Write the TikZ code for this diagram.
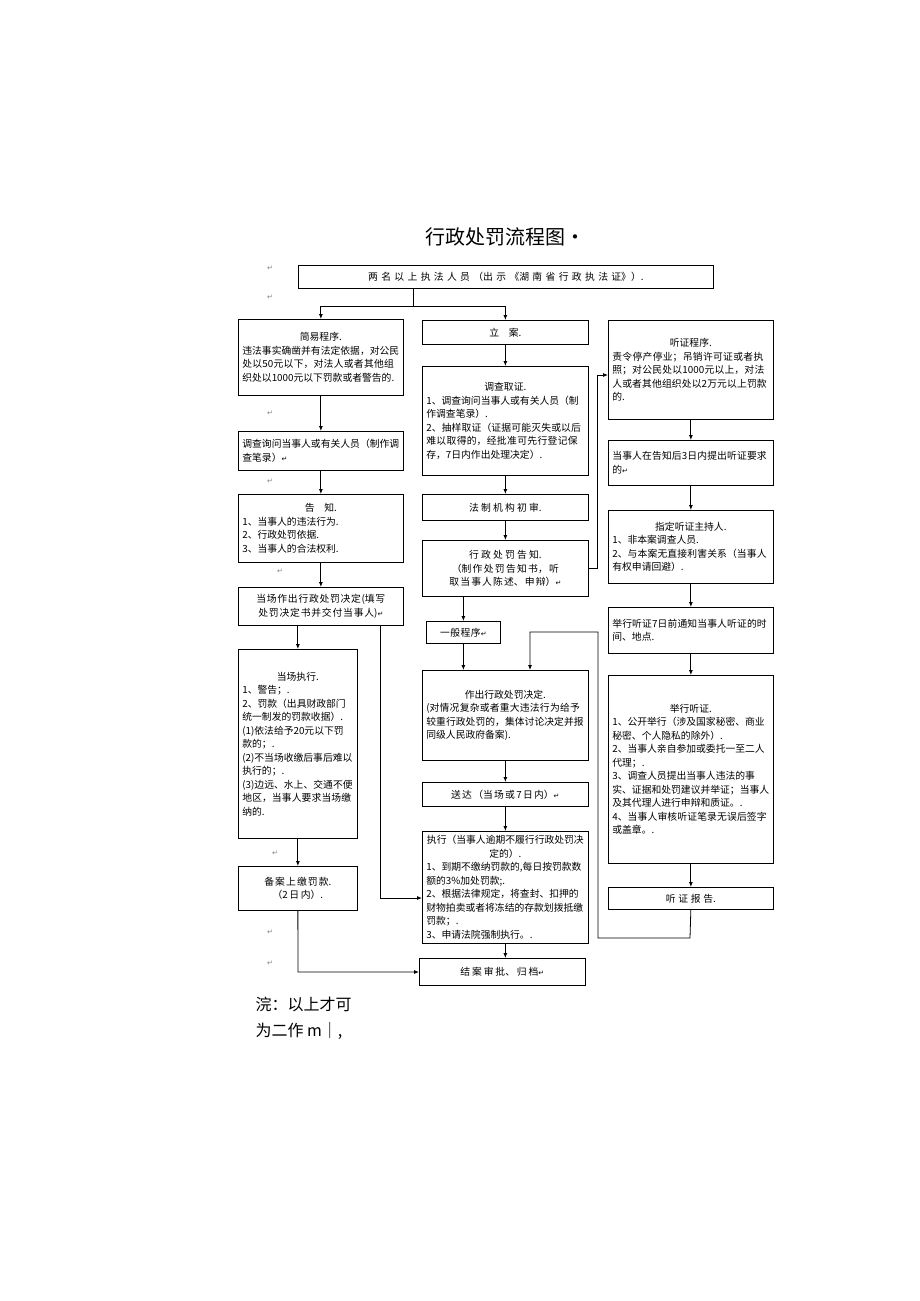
\documentclass[tikz,border=0pt]{standalone}
\usepackage{fontspec}
\newfontfamily\cjk{Noto Sans CJK SC}
\newfontfamily\dv{DejaVu Sans}
\XeTeXlinebreaklocale "zh"
\XeTeXlinebreakskip=0pt plus 1pt
\newcommand{\rt}{{\dv\fontsize{7}{8}\selectfont ↵}}
\usetikzlibrary{calc,arrows.meta}
\begin{document}
\begin{tikzpicture}[x=1pt,y=-1pt,
 box/.style={draw,line width=0.7pt,anchor=north west,inner sep=3pt,font=\cjk\fontsize{9.8}{13.5}\selectfont,align=left},
 arr/.style={-{Latex[length=5pt,width=4pt]},line width=0.8pt},
 ln/.style={line width=0.8pt}]
\useasboundingbox (0,0) rectangle (920,1301);
\fill[white] (0,0) rectangle (920,1301);
\newcommand{\bx}[6]{\node[box,minimum width=#3,minimum height=#4,text width=\dimexpr#3pt-8pt\relax,#5] (#1) at (#2) {#6};}
\node[font=\cjk\fontsize{20}{24}\selectfont] (title) at (505,237) {行政处罚流程图·};
\bx{top}{298,265}{415}{23}{align=center}{两名以上执法人员（出示《湖南省行政执法证》）.}
\bx{jy}{238,319}{165}{76}{}{\centering 简易程序.\par\raggedright 违法事实确凿并有法定依据，对公民处以50元以下，对法人或者其他组织处以1000元以下罚款或者警告的.}
\bx{la}{422,320}{166}{24}{align=center}{立\quad 案.}
\bx{tz}{608,320}{165}{99}{}{\centering 听证程序.\par\raggedright 责令停产停业；吊销许可证或者执照；对公民处以1000元以上，对法人或者其他组织处以2万元以上罚款的.}
\bx{dx}{238,431}{165}{39}{}{调查询问当事人或有关人员（制作调查笔录）\rt}
\bx{dc}{422,366}{166}{109}{}{\centering 调查取证.\par\raggedright 1、调查询问当事人或有关人员（制作调查笔录）.\par 2、抽样取证（证据可能灭失或以后难以取得的，经批准可先行登记保存，7日内作出处理决定）.}
\bx{gz}{238,494}{165}{68}{}{\centering 告\quad 知.\par\raggedright 1、当事人的违法行为.\par 2、行政处罚依据.\par 3、当事人的合法权利.}
\bx{fz}{422,494}{166}{26}{align=center}{法制机构初审.}
\bx{dczc}{238,587}{165}{38}{align=center}{当场作出行政处罚决定(填写处罚决定书并交付当事人)\rt}
\bx{xzgz}{422,540}{166}{56}{align=center}{行政处罚告知.\\（制作处罚告知书，听取当事人陈述、申辩）\rt}
\bx{ybcx}{426,621}{74}{22}{align=center}{一般程序\rt}
\bx{dczx}{238,649}{119}{189}{}{\centering 当场执行.\par\raggedright 1、警告；.\par 2、罚款（出具财政部门统一制发的罚款收据）.\par (1)依法给予20元以下罚款的；.\par (2)不当场收缴后事后难以执行的；.\par (3)边远、水上、交通不便地区，当事人要求当场缴纳的.}
\bx{zc}{422,670}{166}{90}{}{\centering 作出行政处罚决定.\par\raggedright (对情况复杂或者重大违法行为给予较重行政处罚的，集体讨论决定并报同级人民政府备案).}
\bx{sd}{422,782}{166}{24}{align=center}{送达（当场或7日内）\rt}
\bx{zx}{422,831}{166}{112}{}{\centering 执行（当事人逾期不履行行政处罚决定的）.\par\raggedright 1、到期不缴纳罚款的,每日按罚款数额的3\%加处罚款;.\par 2、根据法律规定，将查封、扣押的财物拍卖或者将冻结的存款划拨抵缴罚款；.\par 3、申请法院强制执行。.}
\bx{ba}{238,866}{119}{44}{align=center}{备案上缴罚款.\\（2日内）.}
\bx{ja}{419,958}{166}{27}{align=center}{结案审批、归档\rt}
\bx{gzh}{608,440}{165}{45}{}{当事人在告知后3日内提出听证要求的\rt}
\bx{zd}{608,510}{165}{73}{}{\centering 指定听证主持人.\par\raggedright 1、非本案调查人员.\par 2、与本案无直接利害关系（当事人有权申请回避）.}
\bx{tz7}{608,607}{165}{46}{}{举行听证7日前通知当事人听证的时间、地点.}
\bx{jx}{608,675}{165}{188}{}{\centering 举行听证.\par\raggedright 1、公开举行（涉及国家秘密、商业秘密、个人隐私的除外）.\par 2、当事人亲自参加或委托一至二人代理；.\par 3、调查人员提出当事人违法的事实、证据和处罚建议并举证；当事人及其代理人进行申辩和质证。.\par 4、当事人审核听证笔录无误后签字或盖章。.}
\bx{bg}{608,887}{165}{22}{align=center}{听证报告.}
% connectors
\coordinate (s1) at (413,306);
\draw[ln] (top.south -| s1) -- (s1);
\draw[arr] (s1) -| (jy.north);
\draw[arr] (s1) -| (la.north);
\draw[arr] (la.south) -- (dc.north);
\draw[arr] (dc.south) -- (fz.north);
\draw[arr] (fz.south) -- (xzgz.north);
\draw[arr] (xzgz.south -| ybcx.north) -- (ybcx.north);
\draw[arr] (ybcx.south) -- (ybcx.south |- zc.north);
\draw[arr] (zc.south) -- (sd.north);
\draw[arr] (sd.south) -- (zx.north);
\draw[arr] (zx.south) -- (zx.south |- ja.north);
\draw[arr] (jy.south) -- (dx.north);
\draw[arr] (dx.south) -- (gz.north);
\draw[arr] (gz.south) -- (dczc.north);
\draw[arr] (dczc.south -| dczx.north) -- (dczx.north);
\draw[arr] (dczx.south) -- (ba.north);
\draw[arr] (tz.south) -- (gzh.north);
\draw[arr] (gzh.south) -- (zd.north);
\draw[arr] (zd.south) -- (tz7.north);
\draw[arr] (tz7.south) -- (jx.north);
\draw[arr] (jx.south) -- (bg.north);
\draw[arr] (xzgz.east |- 0,568) -- (597,568) |- (tz.west |- 0,375);
\draw[arr] (bg.south) -- (690,938) -- (598,938) -- (598,632) -- (530,632) -- (530,670);
\draw[arr] (380,625) -- (380,898) -- (zx.west |- 0,898);
\draw[arr] (ba.south) -- (298,972) -- (ja.west |- 0,972);
% stray marks
\foreach \p in {(270,268),(270,297),(270,413),(270,481),(280,571),(275,853),(270,932),(270,963)}
  \node[text=gray] at \p {\rt};
\node[anchor=west,font=\cjk\fontsize{16}{20}\selectfont] (n1) at (252,1004) {浣：以上才可};
\node[anchor=west,font=\cjk\fontsize{16}{20}\selectfont] (n2) at (252,1031) {为二作 m｜,};
\end{tikzpicture}
\end{document}
